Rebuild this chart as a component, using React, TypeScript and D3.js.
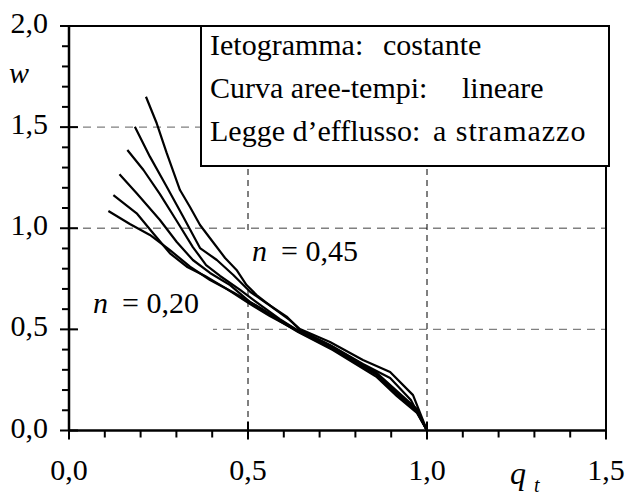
import React from "react";
import * as d3 from "d3";

const xTicks = [0, 0.5, 1.0, 1.5];
const yTicks = [0, 0.5, 1.0, 1.5, 2.0];
const xTickLabels = ["0,0", "0,5", "1,0", "1,5"];
const yTickLabels = ["0,0", "0,5", "1,0", "1,5", "2,0"];
const hGrid = [0.5, 1.0, 1.5];
const vGrid = [0.5, 1.0];

const nValues = [0.2, 0.25, 0.3, 0.35, 0.4, 0.45];

const q20 = [0.110, 0.170, 0.226, 0.282, 0.338, 0.394, 0.458, 0.534, 0.589, 0.640, 0.737, 0.860, 0.916, 0.972, 1.0];
const w20 = [1.085, 1.021, 0.967, 0.892, 0.810, 0.744, 0.684, 0.606, 0.541, 0.487, 0.398, 0.264, 0.170, 0.087, 0];

const q25 = [0.124, 0.189, 0.235, 0.282, 0.329, 0.380, 0.436, 0.506, 0.561, 0.640, 0.737, 0.860, 0.916, 0.972, 1.0];
const w25 = [1.164, 1.074, 0.975, 0.876, 0.810, 0.764, 0.705, 0.625, 0.566, 0.490, 0.403, 0.274, 0.180, 0.091, 0];

const q30 = [0.141, 0.189, 0.254, 0.301, 0.346, 0.394, 0.450, 0.506, 0.561, 0.640, 0.737, 0.860, 0.916, 0.972, 1.0];
const w30 = [1.267, 1.173, 1.041, 0.932, 0.843, 0.779, 0.719, 0.635, 0.576, 0.492, 0.408, 0.279, 0.185, 0.096, 0];

const q35 = [0.163, 0.208, 0.254, 0.301, 0.346, 0.383, 0.422, 0.478, 0.534, 0.589, 0.640, 0.737, 0.860, 0.916, 0.972, 1.0];
const w35 = [1.387, 1.288, 1.169, 1.036, 0.907, 0.818, 0.764, 0.695, 0.621, 0.551, 0.494, 0.413, 0.284, 0.195, 0.106, 0];

const q40 = [0.184, 0.226, 0.273, 0.319, 0.366, 0.413, 0.459, 0.506, 0.552, 0.608, 0.645, 0.729, 0.821, 0.897, 0.955, 1.0];
const w40 = [1.502, 1.354, 1.205, 1.057, 0.902, 0.843, 0.769, 0.686, 0.629, 0.563, 0.497, 0.423, 0.329, 0.260, 0.151, 0];

const q45 = [0.215, 0.245, 0.273, 0.310, 0.338, 0.366, 0.402, 0.436, 0.468, 0.496, 0.524, 0.570, 0.617, 0.645, 0.729, 0.821, 0.897, 0.961, 1.0];
const w45 = [1.650, 1.519, 1.371, 1.189, 1.105, 1.016, 0.932, 0.853, 0.794, 0.719, 0.670, 0.606, 0.546, 0.502, 0.438, 0.349, 0.289, 0.175, 0];

const seriesQ = [q20, q25, q30, q35, q40, q45];
const seriesW = [w20, w25, w30, w35, w40, w45];

const legendLeft = ["Ietogramma:", "Curva aree-tempi:", "Legge d\u2019efflusso:"];
const legendRight = ["costante", "lineare", "a stramazzo"];

const W = 629;
const H = 498;

function T(props: any) {
  const { children, italic, spacing, ...rest } = props;
  return (
    <text
      {...rest}
      fontFamily="Liberation Serif"
      style={{
        fontFamily: "'Liberation Serif'",
        fontStyle: italic ? "italic" : "normal",
        letterSpacing: spacing ? spacing + "px" : undefined,
      }}
    >
      {children}
    </text>
  );
}

export default function App() {
  const x = d3.scaleLinear().domain([0, 1.5]).range([69, 606]);
  const y = d3.scaleLinear().domain([0, 2]).range([430.5, 26]);
  const line = d3
    .line<[number, number]>()
    .x((d) => x(d[0]))
    .y((d) => y(d[1]));

  const minorX = d3.range(0, 16).map((i) => i / 10).filter((v) => Math.round(v * 10) % 5 !== 0);
  const minorY = d3.range(0, 21).map((i) => i / 10).filter((v) => Math.round(v * 10) % 5 !== 0);

  const legendX1 = [210, 210, 210];
  const legendX2 = [383, 462, 433];
  const legendY = [55, 98, 141];
  const legendSpacing = [0, 0, 1.0];

  return (
    <svg width={W} height={H} style={{ position: "absolute", left: 0, top: 0, background: "#fff" }}>
      <rect x={0} y={0} width={W} height={H} fill="#fff" />
      {hGrid.map((v) => (
        <line key={"h" + v} x1={x(0)} x2={x(1.5)} y1={y(v)} y2={y(v)} stroke="#808080" strokeWidth={1.4} strokeDasharray="8,6" />
      ))}
      {vGrid.map((v) => (
        <line key={"v" + v} x1={x(v)} x2={x(v)} y1={y(2)} y2={y(0)} stroke="#000" strokeWidth={1} strokeDasharray="6,5" />
      ))}
      <rect x={245} y={233} width={125} height={54} fill="#fff" />
      <rect x={82} y={287} width={131} height={52} fill="#fff" />
      <T x={252} y={261} fontSize={30} italic>n</T>
      <T x={281} y={261} fontSize={30}>= 0,45</T>
      <T x={93} y={313} fontSize={30} italic>n</T>
      <T x={122} y={313} fontSize={30}>= 0,20</T>
      {seriesQ.map((qs, i) => (
        <path
          key={"c" + nValues[i]}
          d={line(qs.map((q, j) => [q, seriesW[i][j]] as [number, number])) || ""}
          fill="none"
          stroke="#000"
          strokeWidth={2.2}
          strokeLinejoin="round"
        />
      ))}
      <line x1={x(0)} x2={x(1.5)} y1={y(2)} y2={y(2)} stroke="#000" strokeWidth={2} />
      <line x1={x(1.5)} x2={x(1.5)} y1={y(2)} y2={y(0)} stroke="#000" strokeWidth={2} />
      <line x1={x(0)} x2={x(1.5)} y1={y(0)} y2={y(0)} stroke="#000" strokeWidth={2.5} />
      <line x1={x(0)} x2={x(0)} y1={y(2)} y2={y(0)} stroke="#000" strokeWidth={2.5} />
      {xTicks.map((v) => (
        <line key={"xt" + v} x1={x(v)} x2={x(v)} y1={y(0) - 9} y2={y(0) + 9} stroke="#000" strokeWidth={2} />
      ))}
      {minorX.map((v) => (
        <line key={"xm" + v} x1={x(v)} x2={x(v)} y1={y(0)} y2={y(0) + 7} stroke="#000" strokeWidth={2} />
      ))}
      {yTicks.map((v) => (
        <line key={"yt" + v} x1={x(0) - 9} x2={x(0) + 9} y1={y(v)} y2={y(v)} stroke="#000" strokeWidth={2} />
      ))}
      {minorY.map((v) => (
        <line key={"ym" + v} x1={x(0) - 7} x2={x(0)} y1={y(v)} y2={y(v)} stroke="#000" strokeWidth={2} />
      ))}
      {xTicks.map((v, i) => (
        <T key={"xl" + v} x={x(v)} y={480} fontSize={30} textAnchor="middle">
          {xTickLabels[i]}
        </T>
      ))}
      {yTicks.map((v, i) => (
        <T key={"yl" + v} x={48} y={y(v) + 7} fontSize={30} textAnchor="end">
          {yTickLabels[i]}
        </T>
      ))}
      <T x={9} y={83} fontSize={30} italic>w</T>
      <T x={510} y={484} fontSize={32} italic>q</T>
      <T x={534} y={492} fontSize={20} italic>t</T>
      <rect x={201} y={26} width={408} height={140} fill="#fff" stroke="#000" strokeWidth={2} />
      {legendLeft.map((t, i) => (
        <T key={"ll" + i} x={legendX1[i]} y={legendY[i]} fontSize={30}>
          {t}
        </T>
      ))}
      {legendRight.map((t, i) => (
        <T key={"lr" + i} x={legendX2[i]} y={legendY[i]} fontSize={30} spacing={legendSpacing[i]}>
          {t}
        </T>
      ))}
    </svg>
  );
}
